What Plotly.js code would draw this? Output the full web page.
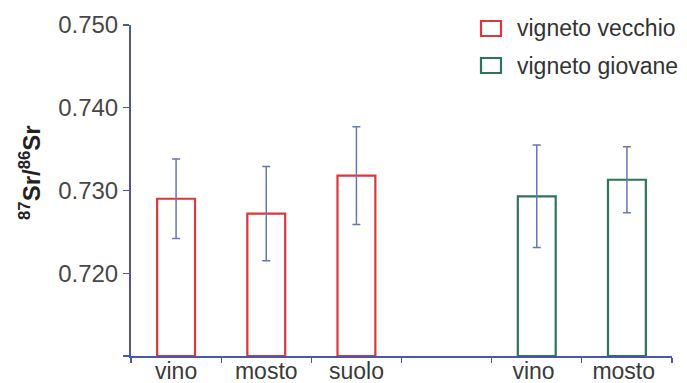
<!DOCTYPE html>
<html>
<head>
<meta charset="utf-8">
<script src="https://cdn.plot.ly/plotly-3.0.1.min.js"></script>
<style>html,body{margin:0;padding:0;background:#fff;}#chart{width:687px;height:383px;}</style>
</head>
<body>
<div id="chart"></div>
<script>
// categories (blank slot separates the two vineyards)
var categories = ['vino', 'mosto', 'suolo', ' ', 'vino ', 'mosto '];
var oldCats = ['vino', 'mosto', 'suolo'];
var oldVals = [0.7290, 0.7272, 0.7318];
var oldErr = [0.0048, 0.0057, 0.0059];
var youngCats = ['vino ', 'mosto '];
var youngVals = [0.7293, 0.7313];
var youngErr = [0.0062, 0.0040];
var seriesNames = ['vigneto vecchio', 'vigneto giovane'];
var yTickVals = [0.710, 0.720, 0.730, 0.740, 0.750];
var yTickText = ['', '0.720', '0.730', '0.740', '0.750'];
var yTitle = '<b><sup>87</sup>Sr/<sup>86</sup>Sr</b>';
var BASE = 0.710;

var RED = '#d8383e', GREEN = '#2e7457', AXIS = '#4a56a6', ERR = '#6677b4';
var FONT = 'Liberation Sans, Arial, sans-serif';

var W = 687, H = 383, M = {l: 131, r: 15, t: 25, b: 27};
var PW = W - M.l - M.r, PH = H - M.t - M.b;
function px2x(p) { return (p - M.l) / PW; }
function px2y(p) { return (H - M.b - p) / PH; }

var traces = [
  {type: 'bar', x: oldCats, y: oldVals.map(function(v){return v - BASE;}), base: BASE, width: 0.42,
   name: seriesNames[0], showlegend: false,
   marker: {color: 'rgba(0,0,0,0)', line: {color: RED, width: 2.2}},
   error_y: {type: 'data', array: oldErr, visible: true, color: ERR, thickness: 1.5, width: 4}},
  {type: 'bar', x: youngCats, y: youngVals.map(function(v){return v - BASE;}), base: BASE, width: 0.42,
   name: seriesNames[1], showlegend: false,
   marker: {color: 'rgba(0,0,0,0)', line: {color: GREEN, width: 2.2}},
   error_y: {type: 'data', array: youngErr, visible: true, color: ERR, thickness: 1.5, width: 4}}
];

// legend drawn as key boxes + labels above the plot
var legendColors = [RED, GREEN];
var legendRows = [28.5, 65.5];
var shapes = [], annotations = [];
seriesNames.forEach(function(name, i) {
  var cy = legendRows[i];
  shapes.push({type: 'rect', xref: 'paper', yref: 'paper',
    x0: px2x(481), x1: px2x(501), y0: px2y(cy + 7.5), y1: px2y(cy - 7.5),
    line: {color: legendColors[i], width: 2.2}, fillcolor: 'rgba(0,0,0,0)'});
  annotations.push({text: name, xref: 'paper', yref: 'paper', x: px2x(515), y: px2y(cy),
    xanchor: 'left', yanchor: 'middle', showarrow: false,
    font: {size: 23, color: '#333', family: FONT}});
});
annotations.push({
  text: yTitle, textangle: -90, xref: 'paper', yref: 'paper',
  x: px2x(30), y: px2y(173), xanchor: 'center', yanchor: 'middle', showarrow: false,
  font: {size: 24, color: '#222', family: FONT}
});

var layout = {
  width: W, height: H,
  margin: M,
  paper_bgcolor: '#fff', plot_bgcolor: '#fff',
  barmode: 'overlay',
  font: {family: FONT, color: '#3a3a3a'},
  showlegend: false,
  xaxis: {
    type: 'category', categoryorder: 'array', categoryarray: categories,
    range: [-0.5, 5.5], tickson: 'boundaries', ticks: 'outside', ticklen: 5, tickwidth: 1.2,
    tickcolor: AXIS, showline: true, linecolor: AXIS, linewidth: 2, showgrid: false, zeroline: false,
    tickfont: {size: 23, color: '#3a3a3a', family: FONT}, ticklabelstandoff: -7, fixedrange: true
  },
  yaxis: {
    range: [0.710, 0.750], tickmode: 'array', tickvals: yTickVals, ticktext: yTickText,
    ticks: 'outside', ticklen: 6, tickwidth: 1.2, tickcolor: AXIS,
    showline: true, linecolor: AXIS, linewidth: 2, showgrid: false, zeroline: false,
    tickfont: {size: 24, color: '#474747', family: FONT},
    fixedrange: true
  },
  shapes: shapes,
  annotations: annotations
};

Plotly.newPlot('chart', traces, layout, {staticPlot: true});
</script>
</body>
</html>
